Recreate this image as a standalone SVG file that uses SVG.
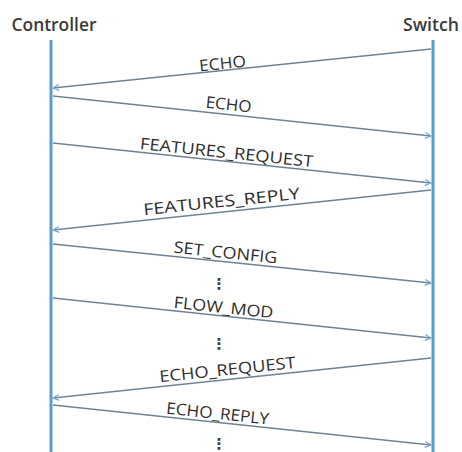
<svg xmlns="http://www.w3.org/2000/svg" width="462" height="452" viewBox="0 0 462 452">
  <style>
    .head { font-family: "Open Sans", "Liberation Sans", sans-serif; font-size: 18px; font-weight: 600; fill: #3a3a3a; text-anchor: middle; }
    .lbl { font-family: "Open Sans", "Liberation Sans", sans-serif; font-size: 16px; fill: #2e2e2e; text-anchor: middle; }
    .dots { font-family: "DejaVu Sans", sans-serif; font-size: 15px; font-weight: bold; fill: #3a3a3a; text-anchor: middle; }
    .life { stroke: #5a9ccf; stroke-width: 3; fill: none; }
    .msg { stroke: #6e8494; stroke-width: 1.3; fill: none; marker-end: url(#arr); }
  </style>
  <defs>
    <marker id="arr" viewBox="0 0 8 8" refX="7" refY="4" markerWidth="8" markerHeight="8" markerUnits="userSpaceOnUse" orient="auto">
      <path d="M1,1 L7,4 L1,7" fill="none" stroke="#7aa6cc" stroke-width="1.2"/>
    </marker>
  </defs>
  <rect width="462" height="452" fill="#ffffff"/>

  <!-- participants -->
  <g id="controller">
    <text class="head" x="54" y="31" textLength="85" lengthAdjust="spacingAndGlyphs">Controller</text>
    <line class="life" x1="51" y1="40" x2="51" y2="452"/>
  </g>
  <g id="switch">
    <text class="head" x="431" y="31" textLength="56" lengthAdjust="spacingAndGlyphs">Switch</text>
    <line class="life" x1="433" y1="40" x2="433" y2="452"/>
  </g>

  <!-- messages -->
  <g id="connectors">
    <line class="msg" x1="431" y1="49" x2="53" y2="88"/>
    <line class="msg" x1="53" y1="96" x2="431" y2="136"/>
    <line class="msg" x1="53" y1="143" x2="431" y2="183"/>
    <line class="msg" x1="431" y1="190" x2="53" y2="230"/>
    <line class="msg" x1="53" y1="244" x2="431" y2="283"/>
    <line class="msg" x1="53" y1="298" x2="431" y2="338"/>
    <line class="msg" x1="431" y1="358" x2="53" y2="398"/>
    <line class="msg" x1="53" y1="405" x2="431" y2="445"/>
  </g>

  <!-- message labels -->
  <g id="labels">
    <text class="lbl" x="223" y="69" transform="rotate(-6 223 69)" textLength="47" lengthAdjust="spacingAndGlyphs">ECHO</text>
    <text class="lbl" x="228" y="110" transform="rotate(6 228 110)" textLength="46" lengthAdjust="spacingAndGlyphs">ECHO</text>
    <text class="lbl" x="226" y="158" transform="rotate(6 226 158)" textLength="174" lengthAdjust="spacingAndGlyphs">FEATURES_REQUEST</text>
    <text class="lbl" x="222" y="207" transform="rotate(-6 222 207)" textLength="157" lengthAdjust="spacingAndGlyphs">FEATURES_REPLY</text>
    <text class="lbl" x="225" y="258" transform="rotate(6 225 258)" textLength="104" lengthAdjust="spacingAndGlyphs">SET_CONFIG</text>
    <text class="lbl" x="223" y="313" transform="rotate(6 223 313)" textLength="100" lengthAdjust="spacingAndGlyphs">FLOW_MOD</text>
    <text class="lbl" x="228" y="375" transform="rotate(-6 228 375)" textLength="137" lengthAdjust="spacingAndGlyphs">ECHO_REQUEST</text>
    <text class="lbl" x="217" y="419" transform="rotate(6 217 419)" textLength="103" lengthAdjust="spacingAndGlyphs">ECHO_REPLY</text>
  </g>

  <!-- elided exchanges -->
  <g id="gaps">
    <text class="dots" x="219" y="289">⋮</text>
    <text class="dots" x="219" y="349">⋮</text>
    <text class="dots" x="219" y="449">⋮</text>
  </g>
</svg>
